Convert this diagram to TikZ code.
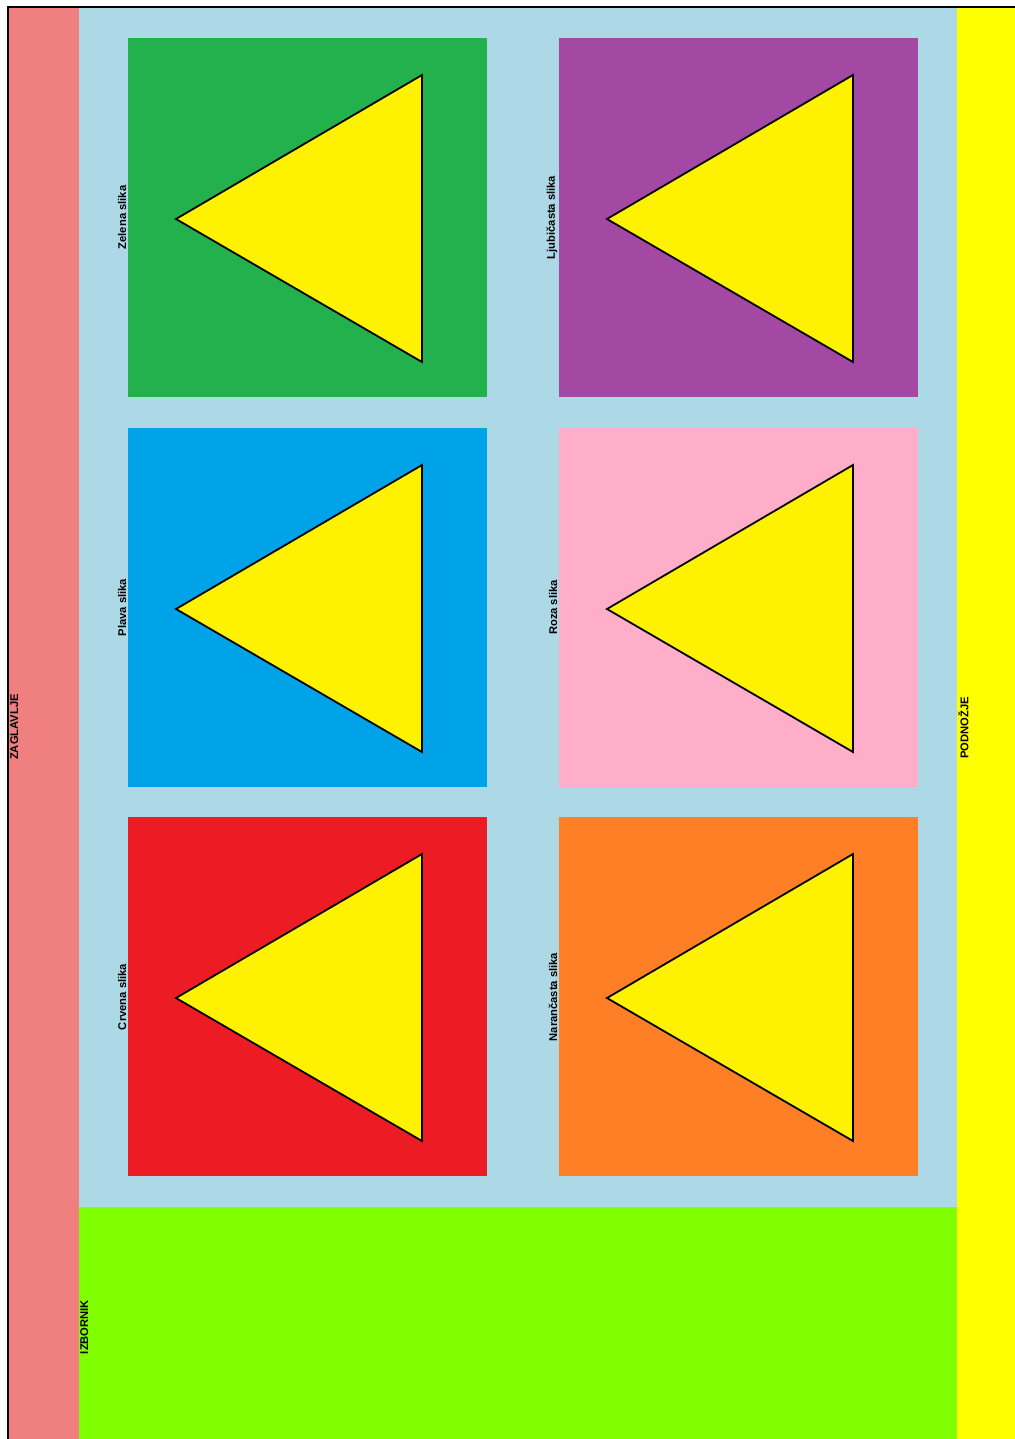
\documentclass[tikz,border=0pt]{standalone}
\usepackage{fontspec}
\setmainfont{Liberation Sans}
\usetikzlibrary{calc}
\definecolor{hdr}{HTML}{F08080}
\definecolor{bodybg}{HTML}{ADD8E6}
\definecolor{ftr}{HTML}{FFFF00}
\definecolor{menu}{HTML}{7FFF00}
\definecolor{cgreen}{HTML}{22B14C}
\definecolor{cblue}{HTML}{00A2E8}
\definecolor{cred}{HTML}{ED1C24}
\definecolor{cpurple}{HTML}{A349A4}
\definecolor{cpink}{HTML}{FFAEC9}
\definecolor{corange}{HTML}{FF7F27}
\definecolor{tri}{HTML}{FFF200}
\tikzset{
  lbl/.style={font=\bfseries\fontsize{11.2}{13}\selectfont, rotate=90, inner sep=0pt, anchor=south},
  sectlbl/.style={font=\bfseries\fontsize{11.2}{13}\selectfont, rotate=90, inner sep=0pt},
  trishape/.style={fill=tri, draw=black, line width=1.8pt, line join=miter},
}
\begin{document}
\begin{tikzpicture}[x=1pt,y=-1pt]
\useasboundingbox (0,0) rectangle (1014,1439);
% sections
\fill[hdr] (8,7) rectangle (79,1445);
\fill[bodybg] (79,7) rectangle (957,1207);
\fill[menu] (79,1207) rectangle (957,1445);
\fill[ftr] (957,7) rectangle (1020,1445);
\draw[black, line width=2.8pt] (8,1445) -- (8,7) -- (1020,7);
% squares with triangles
\foreach \xl/\yt/\col [count=\i] in {128/38/cgreen,128/428/cblue,128/817/cred,559/38/cpurple,559/428/cpink,559/817/corange}{
  \fill[\col] (\xl,\yt) rectangle ++(359,359);
  \draw[trishape] ($(\xl,\yt)+(294,37)$) -- ($(\xl,\yt)+(294,324)$) -- ($(\xl,\yt)+(48,181)$) -- cycle;
}
% labels
\node[lbl] (lz) at (126.5,217.5) {Zelena slika};
\node[lbl] (lp) at (126.5,607.5) {Plava slika};
\node[lbl] (lc) at (126.5,997) {Crvena slika};
\node[lbl] (ll) at (557.5,217.5) {Ljubičasta slika};
\node[lbl] (lr) at (557.5,607.5) {Roza slika};
\node[lbl] (ln) at (557.5,997) {Narančasta slika};
\node[sectlbl, anchor=north] (zag) at (10,727) {ZAGLAVLJE};
\node[sectlbl, anchor=north] (izb) at (80,1327) {IZBORNIK};
\node[sectlbl, anchor=north] (pod) at (958,728) {PODNOŽJE};
\end{tikzpicture}
\end{document}
